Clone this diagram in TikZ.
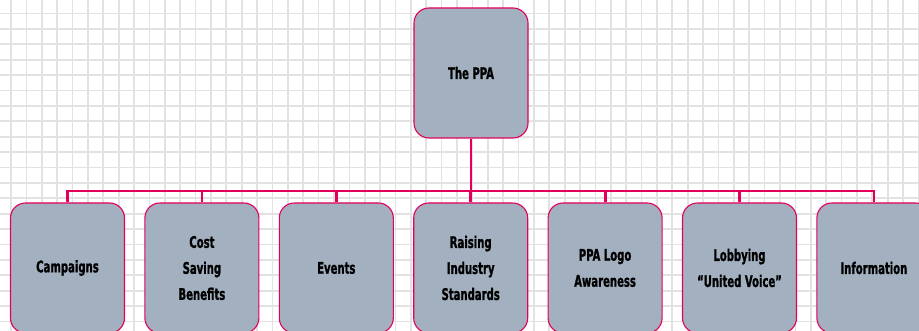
\documentclass[tikz,border=0pt]{standalone}
\usepackage{fontspec}
\usepackage{xcolor}
\usetikzlibrary{positioning}
\newfontfamily\ppafont[FakeStretch=0.7,FakeBold=1]{DejaVu Sans Condensed Bold}
\definecolor{ppapink}{HTML}{E4005A}
\definecolor{boxgray}{HTML}{A2B0BF}
\definecolor{gridgray}{HTML}{E2E2E2}
\tikzset{
    ppabox/.style={draw=ppapink, line width=1.1pt, fill=boxgray, rounded corners=15pt,
        minimum width=114pt, minimum height=130pt, inner sep=2pt, align=center,
        font=\ppafont\fontsize{16}{26}\selectfont},
    ppaline/.style={draw=ppapink, line width=2.8pt},
}

\begin{document}
\begin{tikzpicture}[x=1pt,y=-1pt]
    \useasboundingbox (0,0) rectangle (919,331);
    \clip (0,0) rectangle (919,331);

    % background grid
    \foreach \i in {0,...,59}
        \draw[gridgray, line width=1.7pt] (11+15.38*\i,0) -- (11+15.38*\i,331);
    \foreach \j in {0,...,21}
        \draw[gridgray, line width=1.7pt] (0,13.5+15.4*\j) -- (919,13.5+15.4*\j);

    % top box
    \node[ppabox] (ppa) at (471,73) {The PPA};

    % bottom row
    \node[ppabox] (campaigns) at (67.5,268) {Campaigns};
    \node[ppabox, right=19.3pt of campaigns] (saving) {Cost\\Saving\\Benefits};
    \node[ppabox, right=19.3pt of saving] (events) {Events};
    \node[ppabox, right=19.3pt of events] (raising) {Raising\\Industry\\Standards};
    \node[ppabox, right=19.3pt of raising] (logo) {PPA Logo\\Awareness};
    \node[ppabox, right=19.3pt of logo] (lobbying) {Lobbying\\“United Voice”};
    \node[ppabox, right=19.3pt of lobbying] (information) {Information};

    % connect boxes
    \coordinate (bus) at (471,191);
    \draw[ppaline] (ppa.south) -- (bus);
    \foreach \n in {campaigns,saving,events,raising,logo,lobbying,information}
        \draw[ppaline] (\n.north) |- (bus);
\end{tikzpicture}
\end{document}
